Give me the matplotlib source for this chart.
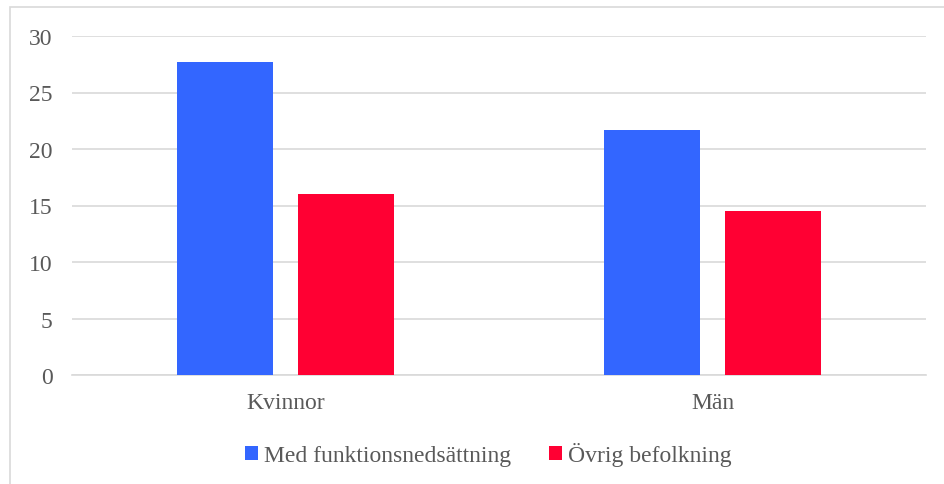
import matplotlib.pyplot as plt
from matplotlib.patches import Rectangle
import numpy as np

plt.rcParams['font.family'] = ['Liberation Serif', 'DejaVu Serif']

categories = ["Kvinnor", "Män"]
series_names = ["Med funktionsnedsättning", "Övrig befolkning"]
med_funk = [27.7, 21.7]
ovrig = [16.0, 14.5]
yticks = [0, 5, 10, 15, 20, 25, 30]

colors = ["#3366FF", "#FF0033"]
text_col = "#595959"

W, H = 944, 485
fig = plt.figure(figsize=(W / 100, H / 100), dpi=100)
ax = fig.add_axes([72 / W, 1 - 376 / H, (926 - 72) / W, (376 - 37) / H])

x = np.arange(len(categories))
bw = 0.224
gap = 0.06
ax.bar(x - (bw + gap) / 2, med_funk, bw, color=colors[0], label=series_names[0], zorder=3)
ax.bar(x + (bw + gap) / 2, ovrig, bw, color=colors[1], label=series_names[1], zorder=3)

ax.set_xlim(-0.5, 1.5)
ax.set_ylim(0, 30)
ax.set_yticks(yticks)
ax.set_xticks(x)
ax.set_xticklabels(categories)
ax.grid(axis='y', color='#d9d9d9', linewidth=1.2, zorder=0)
for s in ['top', 'right', 'left']:
    ax.spines[s].set_visible(False)
ax.spines['bottom'].set_color('#d9d9d9')
ax.spines['bottom'].set_linewidth(1.2)
ax.tick_params(axis='both', length=0, labelsize=17, labelcolor=text_col)
ax.tick_params(axis='y', pad=14)
ax.tick_params(axis='x', pad=12)

fig.legend(loc='center', bbox_to_anchor=(488 / W, 1 - 455 / H), ncol=2, frameon=False,
           fontsize=17, labelcolor=text_col, handlelength=0.55, handleheight=0.55,
           handletextpad=0.25, columnspacing=1.6)

fig.patches.append(Rectangle((10 / W, -0.1), 1.0, 1.1 - 8 / H, transform=fig.transFigure,
                             fill=False, edgecolor='#d9d9d9', linewidth=1.2))

fig.savefig("out.png", dpi=100)
